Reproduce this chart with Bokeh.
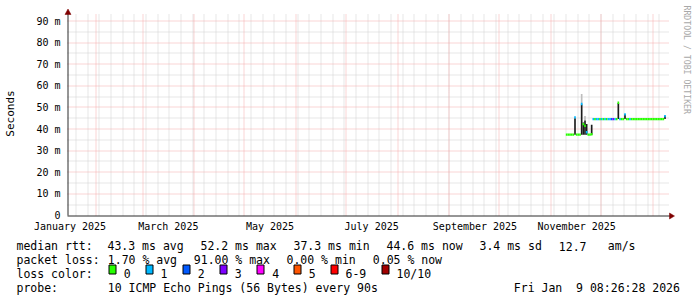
from math import pi, floor
from bokeh.plotting import figure
from bokeh.models import ColumnDataSource, Range1d, FixedTicker, LinearAxis
from bokeh.core.properties import value
from bokeh.embed import file_html
from bokeh.resources import INLINE

# ---------------- data (x = day of year 2025, Jan 1 = 0) ----------------
days = [313, 314, 315, 316, 317, 318, 319, 320, 321, 322, 323, 324, 325, 326, 327, 328,
        329, 330, 331, 332, 333, 334, 335, 336, 337, 338, 339, 340, 341, 342, 343, 344,
        345, 346, 347, 348, 349, 350, 351, 352, 353, 354, 355, 356, 357, 358, 359, 360,
        361, 362, 363, 364, 365, 366, 367, 368, 369, 370, 371, 372]
median_ms = [37.4, 37.4, 37.4, 37.4, 37.4, 45.4, 37.4, 37.4, 37.4, 51.6, 42.3, 41.5, 38.5, 37.4, 37.4, 37.6,
             44.6, 44.6, 44.6, 44.6, 44.6, 44.6, 44.6, 44.6, 44.6, 44.6, 44.6, 44.6, 44.6, 44.6, 44.6, 52.2,
             44.6, 44.6, 44.6, 46.8, 44.6, 44.6, 44.6, 44.6, 44.6, 44.6, 44.6, 44.6, 44.6, 44.6, 44.6, 44.6,
             44.6, 44.6, 44.6, 44.6, 44.6, 44.6, 44.6, 44.6, 44.6, 44.6, 44.6, 46.0]
loss = [0, 0, 0, 0, 0, 1, 0, 0, 0, 1, 0, 0, 1, 0, 0, 0,
        1, 0, 1, 1, 0, 1, 0, 1, 0, 1, 1, 2, 3, 1, 0, 0,
        1, 0, 0, 1, 0, 0, 1, 0, 0, 0, 0, 0, 0, 0, 0, 0,
        0, 0, 0, 0, 0, 0, 0, 0, 0, 0, 0, 1]

smoke_days = [318, 322, 323, 324, 325, 328, 344, 348, 372]
smoke_lo = [37.4, 37.4, 37.4, 37.4, 37.4, 37.4, 44.6, 44.6, 44.6]
smoke_hi = [45.0, 51.4, 43.0, 44.0, 42.3, 42.0, 52.0, 46.9, 46.2]
light_days = [322, 324]
light_lo = [51.4, 44.0]
light_hi = [56.2, 46.0]

loss_labels = ["0", "1", "2", "3", "4", "5", "6-9", "10/10"]
loss_colors = ["#26ff00", "#00b8ff", "#0059ff", "#7e00ff", "#ff00ff", "#ff5500", "#ff0000", "#a10000"]

y_ticks = [0, 10, 20, 30, 40, 50, 60, 70, 80, 90]
y_labels = ["0", "10 m", "20 m", "30 m", "40 m", "50 m", "60 m", "70 m", "80 m", "90 m"]
y_minor = [5, 15, 25, 35, 45, 55, 65, 75, 85]
x_label_days = [15.5, 74.5, 135.5, 196.5, 258.5, 319.5]
x_labels = ["January 2025", "March 2025", "May 2025", "July 2025", "September 2025", "November 2025"]
month_starts = [31, 59, 90, 120, 151, 181, 212, 243, 273, 304, 334, 365]
mondays = [19, 26, 33, 40, 47, 54, 61, 68, 75, 82, 89, 96, 103, 110, 117, 124, 131, 138,
           145, 152, 159, 166, 173, 180, 187, 194, 201, 208, 215, 222, 229, 236, 243, 250,
           257, 264, 271, 278, 285, 292, 299, 306, 313, 320, 327, 334, 341, 348, 355, 362, 369]

legend_text = ["median rtt:", "43.3 ms avg", "52.2 ms max", "37.3 ms min", "44.6 ms now",
               "3.4 ms sd", "12.7", "am/s",
               "packet loss:", "1.70 % avg", "91.00 % max", "0.00 % min", "0.05 % now",
               "loss color:",
               "probe:", "10 ICMP Echo Pings (56 Bytes) every 90s", "Fri Jan", "9 08:26:28 2026"]
legend_px = [16, 107, 200, 293, 386, 479, 558.3, 607.3,
             16, 107.3, 193.3, 286, 372.3,
             16,
             16, 107.3, 513.3, 575.6]
legend_py = [245.5] * 8 + [259.4] * 5 + [273.3] + [287.2] * 4
box_px = [108, 145, 182, 219, 256, 293, 330, 381]
box_label_px = [123.3, 160.0, 197.3, 234.3, 271.7, 308.3, 345.0, 396.0]

# ---------------- geometry: the frame covers the whole canvas ----------------
W, H = 697, 297
X0_PX, X0_DAY = 67, 14.0          # left edge of the graph area
Y0_PX = 215                       # 0 ms
PX_DAY = 600.0 / 360.0
PX_MS = 194.5 / 90.0


def dx(px):
    return X0_DAY + (px - X0_PX) / PX_DAY


def dy(py):
    return (Y0_PX - py) / PX_MS


def to_px(day):
    return X0_PX + (day - X0_DAY) * PX_DAY


def to_py(ms):
    return Y0_PX - ms * PX_MS


def gx(day):   # snap a vertical rule onto a pixel column
    return dx(floor(to_px(day)) + 0.5)


def gy(ms):    # snap a horizontal rule onto a pixel row
    return dy(floor(to_py(ms)) + 0.5)


MONO = "DejaVu Sans Mono"

p = figure(width=W, height=H, x_range=Range1d(dx(0), dx(W)), y_range=Range1d(dy(H), dy(0)),
           output_backend="svg", toolbar_location=None, x_axis_type=None, y_axis_type=None,
           min_border=0)
p.outline_line_color = None
p.background_fill_color = "white"
p.border_fill_color = "white"

# axes (tick labels only, pinned to the graph origin)
yax = LinearAxis(ticker=FixedTicker(ticks=y_ticks, minor_ticks=[]),
                 major_label_overrides=dict(zip(y_ticks, y_labels)), fixed_location=X0_DAY,
                 axis_line_color=None, major_tick_line_color=None, minor_tick_line_color=None,
                 major_tick_in=0, major_tick_out=0, major_label_standoff=7,
                 major_label_text_font=MONO, major_label_text_font_size="10px",
                 major_label_text_color="#000000")
p.add_layout(yax, "left")
xax = LinearAxis(ticker=FixedTicker(ticks=x_label_days, minor_ticks=[]),
                 major_label_overrides=dict(zip(x_label_days, x_labels)), fixed_location=0,
                 axis_line_color=None, major_tick_line_color=None, minor_tick_line_color=None,
                 major_tick_in=0, major_tick_out=0, major_label_standoff=5,
                 major_label_text_font=MONO, major_label_text_font_size="10px",
                 major_label_text_color="#000000")
p.add_layout(xax, "below")

# grid (dotted, rrdtool style)
gl, gr = dx(67), dx(668)
gb, gt = dy(215), dy(13)
p.segment(x0=[gl] * len(y_minor), y0=[gy(v) for v in y_minor], x1=[gr] * len(y_minor),
          y1=[gy(v) for v in y_minor], line_color="#cdcdcd", line_width=1, line_dash="1 1")
p.segment(x0=[gx(d) for d in mondays], y0=[gb] * len(mondays), x1=[gx(d) for d in mondays],
          y1=[gt] * len(mondays), line_color="#cdcdcd", line_width=1, line_dash="1 1")
p.segment(x0=[gl] * 9, y0=[gy(v) for v in y_ticks[1:]], x1=[gr] * 9,
          y1=[gy(v) for v in y_ticks[1:]], line_color="#f4aaaa", line_width=1, line_dash="1 1")
p.segment(x0=[gx(d) for d in month_starts], y0=[gb] * len(month_starts),
          x1=[gx(d) for d in month_starts], y1=[gt] * len(month_starts),
          line_color="#f4aaaa", line_width=1, line_dash="1 1")

# smoke
p.quad(left=light_days, right=[d + 1 for d in light_days], bottom=light_lo, top=light_hi,
       fill_color="#bdbdbd", line_color=None)
p.quad(left=smoke_days, right=[d + 1 for d in smoke_days], bottom=smoke_lo, top=smoke_hi,
       fill_color="#1c1c1c", line_color=None)

# median coloured by loss
cidx = [l if l <= 5 else (6 if l < 10 else 7) for l in loss]
src = ColumnDataSource(dict(left=days, right=[d + 1 for d in days],
                            bottom=[m - 0.55 for m in median_ms],
                            top=[m + 0.55 for m in median_ms],
                            color=[loss_colors[i] for i in cidx]))
p.quad(left="left", right="right", bottom="bottom", top="top", fill_color="color",
       line_color=None, source=src)

# axis lines and arrows
p.segment(x0=[dx(67.5), dx(67)], y0=[dy(215), dy(215.5)], x1=[dx(67.5), dx(670)],
          y1=[dy(12), dy(215.5)], line_color="#2c2c2c", line_width=1)
p.patches(xs=[[dx(64.5), dx(70.5), dx(67.5)], [dx(669), dx(669), dx(674)]],
          ys=[[dy(14), dy(14), dy(8.5)], [dy(212.5), dy(218.5), dy(215.5)]],
          fill_color="#7f0000", line_color="#7f0000", line_width=0.5)

# side texts
p.text(x=[dx(10)], y=[dy(113)], text=["Seconds"], angle=pi / 2, text_font=value(MONO),
       text_font_size="11px", text_color="#000000", text_align="center", text_baseline="middle")
p.text(x=[dx(686)], y=[dy(5)], text=["RRDTOOL / TOBI OETIKER"], angle=-pi / 2,
       text_font=value(MONO), text_font_size="8.2px", text_color="#a8a8a8",
       text_align="left", text_baseline="middle")

# legend
p.text(x=[dx(v) for v in legend_px], y=[dy(v) for v in legend_py], text=legend_text,
       text_font=value(MONO), text_font_size="11.5px", text_color="#000000",
       text_align="left", text_baseline="alphabetic")
p.quad(left=[dx(b + 0.5) for b in box_px], right=[dx(b + 7.5) for b in box_px],
       top=[dy(264.5)] * 8, bottom=[dy(273.5)] * 8,
       fill_color=loss_colors, line_color="#000000", line_width=1)
p.text(x=[dx(v) for v in box_label_px], y=[dy(273.3)] * 8, text=loss_labels,
       text_font=value(MONO), text_font_size="11.5px", text_color="#000000",
       text_align="left", text_baseline="alphabetic")

open("out.html", "w").write(file_html(p, INLINE))
